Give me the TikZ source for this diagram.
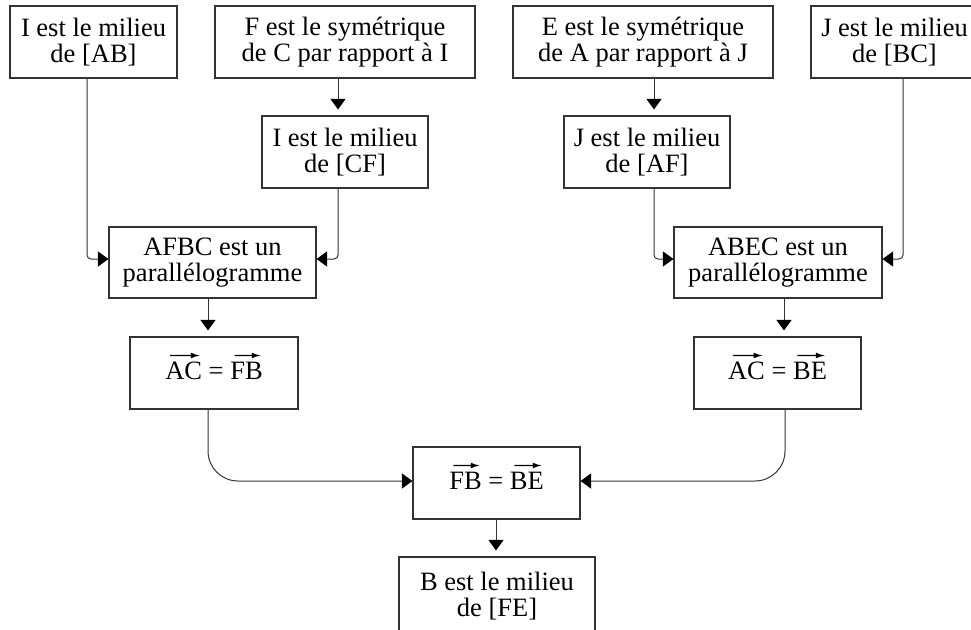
\documentclass[tikz,border=0pt]{standalone}
\usepackage{fontspec}
\setmainfont{Liberation Serif}
\usepackage{pict2e}
\usetikzlibrary{arrows.meta}
\newcommand\vecover[1]{\leavevmode\setbox0\hbox{#1}\rlap{\raisebox{23.5pt}{\setlength{\unitlength}{\wd0}\linethickness{1.3pt}\begin{picture}(0,0)\put(0.13,0){\vector(1,0){0.8}}\end{picture}}}\box0\relax}
\begin{document}
\begin{tikzpicture}[x=1pt,y=-1pt,
  box/.style={draw=black!80, line width=1.1pt, align=center, inner sep=0pt,
    font=\fontsize{26.5}{26.5}\selectfont, minimum height=72pt},
  vbox/.style={box, text height=14pt, text depth=2pt},
  conn/.style={draw=black!80, line width=1pt, -{Triangle[length=10.5pt,width=15pt,color=black]}},
  vconn/.style={conn, shorten >=6pt},
]
\useasboundingbox (0,0) rectangle (971,629);
\clip (0,0) rectangle (971,629);

\node[box, minimum width=167pt] (n1) at (93.5,42) {I est le milieu\\de [AB]};
\node[box, minimum width=260pt] (n2) at (345,42) {F est le symétrique\\de C par rapport à I};
\node[box, minimum width=260pt] (n3) at (643,42) {E est le symétrique\\de A par rapport à J};
\node[box, minimum width=167pt] (n4) at (894.5,42) {J est le milieu\\de [BC]};
\node[box, minimum width=166pt] (n5) at (345,152) {I est le milieu\\de [CF]};
\node[box, minimum width=166pt] (n6) at (647,152) {J est le milieu\\de [AF]};
\node[box, minimum width=207pt, minimum height=71pt] (n7) at (212.5,262.5) {AFBC est un\\parallélogramme};
\node[box, minimum width=208pt, minimum height=71pt] (n8) at (778,262.5) {ABEC est un\\parallélogramme};
\node[vbox, minimum width=168pt] (n9) at (214,373) {\vecover{AC} = \vecover{FB}};
\node[vbox, minimum width=167pt] (n10) at (777.5,373) {\vecover{AC} = \vecover{BE}};
\node[vbox, minimum width=167pt] (n11) at (496.5,483) {\vecover{FB} = \vecover{BE}};
\node[box, minimum width=196pt, minimum height=78pt] (n12) at (497,596) {B est le milieu\\de [FE]};

\coordinate (x87) at (87,0);
\coordinate (x338) at (338,0);
\coordinate (x654) at (654,0);
\coordinate (x903) at (903,0);
\coordinate (x208) at (208,0);
\coordinate (x784) at (784,0);
\coordinate (x785) at (785,0);
\coordinate (x496) at (496,0);

\draw[conn, rounded corners=4pt] (n1.south -| x87) |- ([yshift=3.5pt]n7.west);
\draw[vconn] (n2.south -| x338) -- (n5.north -| x338);
\draw[conn, rounded corners=4pt] (n5.south -| x338) |- ([yshift=3.5pt]n7.east);
\draw[vconn] (n3.south -| x654) -- (n6.north -| x654);
\draw[conn, rounded corners=4pt] (n6.south -| x654) |- ([yshift=3.5pt]n8.west);
\draw[conn, rounded corners=4pt] (n4.south -| x903) |- ([yshift=3.5pt]n8.east);
\draw[vconn] (n7.south -| x208) -- (n9.north -| x208);
\draw[vconn] (n8.south -| x784) -- (n10.north -| x784);
\draw[conn, rounded corners=30pt] (n9.south -| x208) |- ([yshift=2pt]n11.west);
\draw[conn, rounded corners=30pt] (n10.south -| x785) |- ([yshift=2pt]n11.east);
\draw[vconn] (n11.south -| x496) -- (n12.north -| x496);
\end{tikzpicture}
\end{document}
